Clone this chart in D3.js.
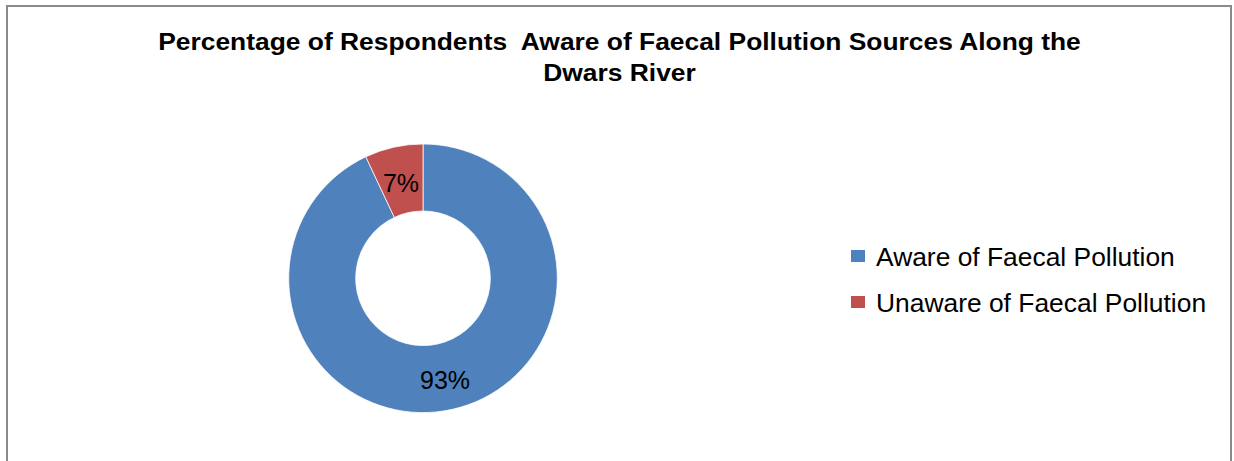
<!DOCTYPE html>
<html>
<head>
<meta charset="utf-8">
<script src="https://cdn.jsdelivr.net/npm/d3@7"></script>
<style>
  html, body { margin: 0; padding: 0; background: #ffffff; }
  svg { display: block; }
</style>
</head>
<body>
<svg id="chart" width="1234" height="461"></svg>
<script>
// Survey categories and their shares (percent)
const categories = ["Aware of Faecal Pollution", "Unaware of Faecal Pollution"];
const values = [93, 7];
const valueLabels = ["93%", "7%"];
const colors = ["#4F81BD", "#C0504D"];
const titleLines = [
  "Percentage of Respondents  Aware of Faecal Pollution Sources Along the",
  "Dwars River"
];

const svg = d3.select("#chart");
const W = 1234, H = 461;

// Outer frame of the chart area
svg.append("rect")
  .attr("x", 7).attr("y", 6)
  .attr("width", 1224).attr("height", H + 20)
  .attr("fill", "#ffffff")
  .attr("stroke", "#8a8a8a")
  .attr("stroke-width", 2);

// Title (bold, condensed to fit its line)
const titleG = svg.append("g");
const titleCenter = 619.5;
const titleWidth = 923;
const titleText = titleG.selectAll("text")
  .data(titleLines)
  .join("text")
  .attr("x", 0)
  .attr("y", (d, i) => 50 + i * 31)
  .attr("text-anchor", "middle")
  .attr("font-family", "'Liberation Sans', Arial, sans-serif")
  .attr("font-weight", "bold")
  .attr("font-size", 24.5)
  .attr("fill", "#000000")
  .style("white-space", "pre")
  .attr("xml:space", "preserve")
  .text(d => d);
const natural = titleText.nodes()[0].getComputedTextLength();
const sx = titleWidth / natural;
titleG.attr("transform", `translate(${titleCenter},0) scale(${sx},1)`);

// Donut
const cx = 423, cy = 278.3;
const outerR = 134.3, innerR = 67.3;

const pie = d3.pie().sort(null).value(d => d.value);
const data = categories.map((c, i) => ({ name: c, value: values[i], label: valueLabels[i], color: colors[i] }));
const arcs = pie(data);

const arc = d3.arc().innerRadius(innerR).outerRadius(outerR);
const labelArc = d3.arc().innerRadius((innerR + outerR) / 2).outerRadius((innerR + outerR) / 2);

const donut = svg.append("g").attr("transform", `translate(${cx},${cy})`);
donut.selectAll("path")
  .data(arcs)
  .join("path")
  .attr("d", arc)
  .attr("fill", d => d.data.color)
  .attr("stroke", "#ffffff")
  .attr("stroke-width", 0.75);

donut.selectAll("text")
  .data(arcs)
  .join("text")
  .attr("transform", d => `translate(${labelArc.centroid(d)})`)
  .attr("text-anchor", "middle")
  .attr("dy", "0.5em")
  .attr("font-family", "'Liberation Sans', Arial, sans-serif")
  .attr("font-size", 25)
  .attr("fill", "#000000")
  .text(d => d.data.label);

// Legend
const legend = svg.append("g").attr("transform", "translate(851,250)");
const rows = legend.selectAll("g")
  .data(data)
  .join("g")
  .attr("transform", (d, i) => `translate(0,${i * 46})`);
rows.append("rect")
  .attr("x", 0).attr("y", 0)
  .attr("width", 14).attr("height", 12)
  .attr("fill", d => d.color);
rows.append("text")
  .attr("x", 25)
  .attr("y", 16)
  .attr("font-family", "'Liberation Sans', Arial, sans-serif")
  .attr("font-size", 26.4)
  .attr("fill", "#000000")
  .text(d => d.name);
</script>
</body>
</html>
